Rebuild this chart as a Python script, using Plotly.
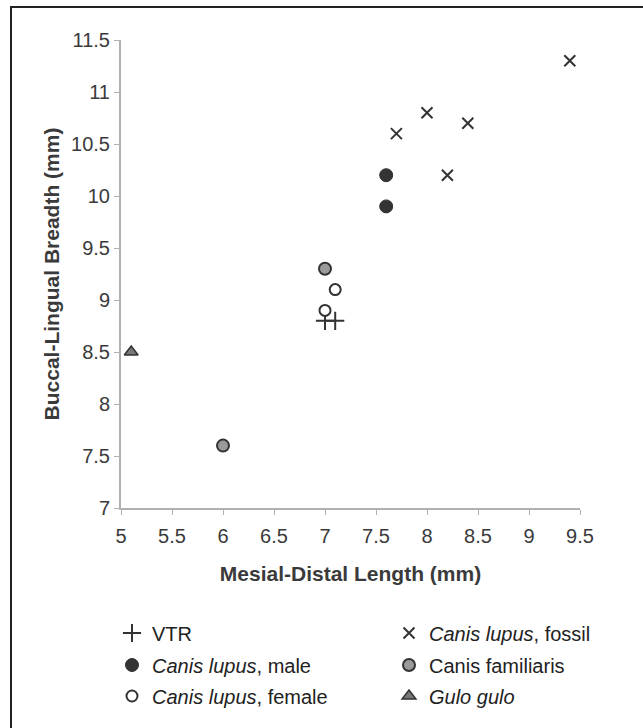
import plotly.graph_objects as go

# Data
vtr_x = [7.0, 7.1]
vtr_y = [8.8, 8.8]
fossil_x = [7.7, 8.0, 8.4, 8.2, 9.4]
fossil_y = [10.6, 10.8, 10.7, 10.2, 11.3]
male_x = [7.6, 7.6]
male_y = [10.2, 9.9]
familiaris_x = [7.0, 6.0]
familiaris_y = [9.3, 7.6]
female_x = [7.1, 7.0]
female_y = [9.1, 8.9]
gulo_x = [5.1]
gulo_y = [8.5]

x_ticks = [5, 5.5, 6, 6.5, 7, 7.5, 8, 8.5, 9, 9.5]
y_ticks = [7, 7.5, 8, 8.5, 9, 9.5, 10, 10.5, 11, 11.5]

DARK = "#333333"
TXT = "#3a3a3a"
FONT = "Arial, Liberation Sans, sans-serif"

W, H = 643, 728
L, R, T, B = 121, 63, 40, 220
PW, PH = W - L - R, H - T - B


def px_x(p):
    return (p - L) / PW


def px_y(p):
    return (H - B - p) / PH


fig = go.Figure()

fig.add_trace(go.Scatter(
    x=vtr_x, y=vtr_y, mode="markers", name="VTR", legend="legend", showlegend=True,
    marker=dict(symbol="cross-thin", size=13, line=dict(color=DARK, width=2), color=DARK)))
fig.add_trace(go.Scatter(
    x=fossil_x, y=fossil_y, mode="markers", name="<i>Canis lupus</i>, fossil", legend="legend2",
    showlegend=True,
    marker=dict(symbol="x-thin", size=11, line=dict(color=DARK, width=2), color=DARK)))
fig.add_trace(go.Scatter(
    x=male_x, y=male_y, mode="markers", name="<i>Canis lupus</i>, male", legend="legend3",
    showlegend=True,
    marker=dict(symbol="circle", size=13, color=DARK, line=dict(color=DARK, width=1))))
fig.add_trace(go.Scatter(
    x=familiaris_x, y=familiaris_y, mode="markers", name="Canis familiaris", legend="legend4",
    showlegend=True,
    marker=dict(symbol="circle", size=12, color="#9a9a9a", line=dict(color=DARK, width=2))))
fig.add_trace(go.Scatter(
    x=female_x, y=female_y, mode="markers", name="<i>Canis lupus</i>, female", legend="legend5",
    showlegend=True,
    marker=dict(symbol="circle", size=11, color="white", line=dict(color=DARK, width=2))))
fig.add_trace(go.Scatter(
    x=gulo_x, y=gulo_y, mode="markers", name="<i>Gulo gulo</i>", legend="legend6",
    showlegend=True,
    marker=dict(symbol="triangle-up", size=12, color="#777777", line=dict(color=DARK, width=1.5))))

leg_common = dict(
    orientation="h", xanchor="left", yanchor="middle",
    font=dict(family=FONT, size=20, color="#222222"),
    bgcolor="rgba(0,0,0,0)", itemwidth=30, visible=True,
)
col1, col2 = px_x(112), px_x(389)
row1, row2, row3 = px_y(633), px_y(665), px_y(696)

fig.update_layout(
    width=W, height=H, showlegend=True,
    margin=dict(l=L, r=R, t=T, b=B, autoexpand=False),
    paper_bgcolor="white", plot_bgcolor="white",
    font=dict(family=FONT, size=20, color=TXT),
    legend=dict(x=col1, y=row1, **leg_common),
    legend2=dict(x=col2, y=row1, **leg_common),
    legend3=dict(x=col1, y=row2, **leg_common),
    legend4=dict(x=col2, y=row2, **leg_common),
    legend5=dict(x=col1, y=row3, **leg_common),
    legend6=dict(x=col2, y=row3, **leg_common),
    xaxis=dict(
        range=[5, 9.5], tickvals=x_ticks, ticktext=[f"{v:g}" for v in x_ticks],
        showgrid=False, zeroline=False, showline=True, linecolor="#b0b0b0", linewidth=2,
        ticks="outside", ticklen=5, tickcolor="#b0b0b0", tickwidth=1,
        ticklabelstandoff=4,
        tickfont=dict(family=FONT, size=20, color=TXT),
        title=dict(text="<b>Mesial-Distal Length (mm)</b>", standoff=20,
                   font=dict(family=FONT, size=21, color=TXT)),
        automargin=False,
    ),
    yaxis=dict(
        range=[7, 11.5], tickvals=y_ticks, ticktext=[f"{v:g}" for v in y_ticks],
        showgrid=False, zeroline=False, showline=True, linecolor="#b0b0b0", linewidth=2,
        ticks="outside", ticklen=5, tickcolor="#b0b0b0", tickwidth=1,
        tickfont=dict(family=FONT, size=20, color=TXT),
        title=dict(text="<b>Buccal-Lingual Breadth (mm)</b>", standoff=6,
                   font=dict(family=FONT, size=21, color=TXT)),
        automargin=False,
    ),
    shapes=[dict(
        type="rect", xref="paper", yref="paper",
        x0=px_x(11), x1=px_x(700), y0=px_y(800), y1=px_y(7),
        line=dict(color="#222222", width=2), fillcolor="rgba(0,0,0,0)", layer="above",
    )],
)

fig.write_html("out.html")
